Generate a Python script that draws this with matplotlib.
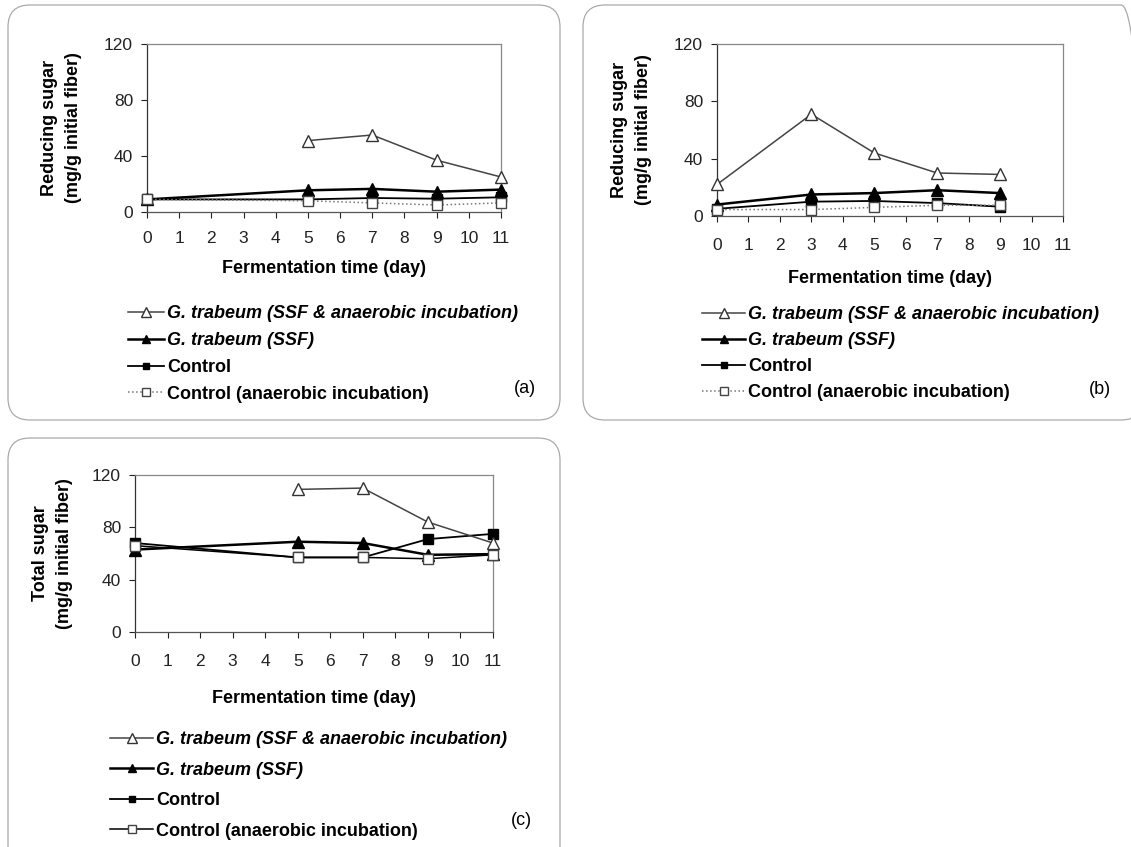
import numpy as np
import matplotlib
matplotlib.use("Agg")
import matplotlib.pyplot as plt
from matplotlib.patches import FancyBboxPatch

plt.rcParams['font.family'] = ['Liberation Sans', 'DejaVu Sans']

nan = np.nan

# panel (a): reducing sugar
a_days = [0, 5, 7, 9, 11]
a_gt_anaer = [nan, 51, 55, 37, 25]
a_gt_ssf = [9, 15.5, 16.5, 14.5, 16]
a_ctrl = [9, 9, 10, 9.5, 10.5]
a_ctrl_anaer = [9, 8, 6.5, 5, 6.5]

# panel (b): reducing sugar
b_days = [0, 3, 5, 7, 9]
b_gt_anaer = [22, 71, 44, 30, 29]
b_gt_ssf = [8, 15, 16, 18, 16]
b_ctrl = [5, 10, 10.5, 9, 6.5]
b_ctrl_anaer = [4.5, 4.5, 6, 7.5, 7.5]

# panel (c): total sugar
c_days = [0, 5, 7, 9, 11]
c_gt_anaer = [nan, 109, 110, 84, 68]
c_gt_ssf = [63, 69, 68, 59, 59.5]
c_ctrl = [68, 57, 57, 71, 75]
c_ctrl_anaer = [66, 57, 57, 56, 59]

labels = ["G. trabeum (SSF & anaerobic incubation)", "G. trabeum (SSF)",
          "Control", "Control (anaerobic incubation)"]
yticks = [0, 40, 80, 120]
xticks = list(range(12))

W, H = 1131, 847
fig = plt.figure(figsize=(W / 100, H / 100), dpi=100)


def px_axes(left, right, top, bottom):
    return fig.add_axes([left / W, 1 - bottom / H, (right - left) / W, (bottom - top) / H])


def draw_panel(ax, days, gt_anaer, gt_ssf, ctrl, ctrl_anaer, ylabel, dotted,
               xpad, xlabelpad, ylabelpad):
    ls_light = ':' if dotted else '-'
    h3, = ax.plot(days, ctrl, color='black', lw=1.3, marker='s', ms=6.5,
                  mfc='black', mec='black', clip_on=False, zorder=3)
    h2, = ax.plot(days, gt_ssf, color='black', lw=1.8, marker='^', ms=8,
                  mfc='black', mec='black', clip_on=False, zorder=4)
    h4, = ax.plot(days, ctrl_anaer, color='#777777' if dotted else 'black',
                  lw=1.1, ls=ls_light, marker='s', ms=7, mfc='white',
                  mec='#444444', clip_on=False, zorder=5)
    h1, = ax.plot(days, gt_anaer, color='#444444', lw=1.1, marker='^', ms=9,
                  mfc='white', mec='#333333', clip_on=False, zorder=6)
    ax.set_xlim(0, 11)
    ax.set_ylim(0, 120)
    ax.set_xticks(xticks)
    ax.set_yticks(yticks)
    ax.tick_params(labelsize=12.5, length=4, width=0.8, direction='out', colors='#222222')
    ax.tick_params(axis='x', pad=xpad)
    ax.tick_params(axis='y', pad=6)
    for s in ax.spines.values():
        s.set_color('#888888')
        s.set_linewidth(0.9)
    ax.spines['left'].set_color('#333333')
    ax.spines['bottom'].set_color('#555555')
    ax.set_xlabel("Fermentation time (day)", fontsize=13, fontweight='bold',
                  labelpad=xlabelpad)
    ax.set_ylabel(ylabel, fontsize=13, fontweight='bold', labelpad=ylabelpad,
                  linespacing=1.55)
    return [h1, h2, h3, h4]


def add_legend(ax, handles, x, y, spacing, hlen):
    leg = ax.legend(handles, labels, loc='upper left', bbox_to_anchor=(x / W, 1 - y / H),
                    bbox_transform=fig.transFigure, frameon=False, borderpad=0,
                    borderaxespad=0, labelspacing=spacing, handlelength=hlen,
                    handletextpad=0.15, markerscale=0.75,
                    prop={'weight': 'bold', 'size': 13})
    for t in leg.get_texts()[:2]:
        t.set_style('italic')
    return leg


# rounded frames round each panel
for (bx, by, bw, bh) in [(8, 5, 552, 415), (583, 5, 560, 415), (8, 438, 552, 430)]:
    fig.patches.append(FancyBboxPatch((bx / 100, (H - by - bh) / 100), bw / 100, bh / 100,
                                      boxstyle="round,pad=0,rounding_size=0.22",
                                      transform=fig.dpi_scale_trans, fill=False,
                                      ec='#aaaaaa', lw=0.9))

ax_a = px_axes(147, 501, 44, 212)
ha = draw_panel(ax_a, a_days, a_gt_anaer, a_gt_ssf, a_ctrl, a_ctrl_anaer,
                "Reducing sugar\n(mg/g initial fiber)", True, 10, 10, 16)
add_legend(ax_a, ha, 128, 305, 0.55, 2.0)
fig.text(525 / W, 1 - 388 / H, "(a)", fontsize=13, ha='center', va='center')

ax_b = px_axes(717, 1063, 44, 216)
hb = draw_panel(ax_b, b_days, b_gt_anaer, b_gt_ssf, b_ctrl, b_ctrl_anaer,
                "Reducing sugar\n(mg/g initial fiber)", True, 12, 12, 16)
add_legend(ax_b, hb, 702, 306, 0.5, 2.4)
fig.text(1100 / W, 1 - 389 / H, "(b)", fontsize=13, ha='center', va='center')

ax_c = px_axes(135, 493, 475, 632)
hc = draw_panel(ax_c, c_days, c_gt_anaer, c_gt_ssf, c_ctrl, c_ctrl_anaer,
                "Total sugar\n(mg/g initial fiber)", False, 12, 15, 14)
add_legend(ax_c, hc, 110, 731, 0.75, 2.4)
fig.text(521 / W, 1 - 820 / H, "(c)", fontsize=13, ha='center', va='center')

fig.savefig("out.png", dpi=100)
